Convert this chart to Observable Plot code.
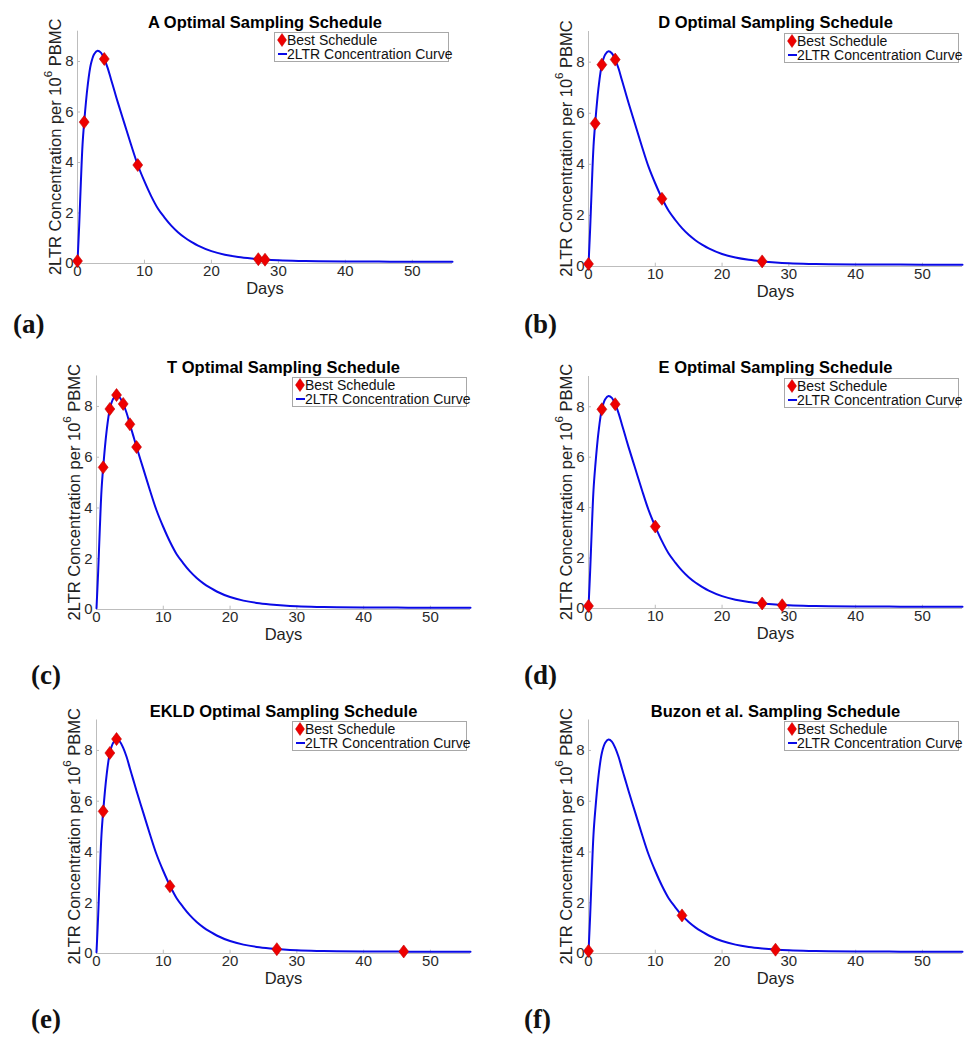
<!DOCTYPE html>
<html>
<head>
<meta charset="utf-8">
<script src="https://cdn.jsdelivr.net/npm/d3@7"></script>
<script src="https://cdn.jsdelivr.net/npm/@observablehq/plot@0.6"></script>
<style>
  html, body { margin: 0; padding: 0; background: #fff; }
  #root { position: relative; width: 967px; height: 1038px; background: #fff; overflow: hidden; }
  .panel { position: absolute; }
  .legend { position: absolute; border: 1px solid #a8a8a8; background: #fff; font-family: "Liberation Sans", Arial, sans-serif; font-size: 14px; color: #111; line-height: 14px; padding: 0 2px 1px 2px; box-sizing: border-box; }
  .legend .row { display: flex; align-items: center; height: 14px; white-space: nowrap; }
  .legend svg { display: block; flex: none; }
  .plabel { position: absolute; font-family: "Liberation Serif", "DejaVu Serif", serif; font-weight: bold; font-size: 27px; color: #111; line-height: 1; }
</style>
</head>
<body>
<div id="root"></div>
<script>
// ---- data ----
const curveDays = [0,0.25,0.5,0.75,1,1.5,2,2.5,3,3.5,4,4.5,5,5.5,6,7,8,9,10,11,12,13,14,15,16,17,18,20,22,24,26,28,30,33,36,40,45,50,56];
const curveConc = [0.05,1.5,3.2,4.7,5.6,7.0,7.9,8.3,8.43,8.35,8.1,7.75,7.3,6.85,6.4,5.55,4.7,3.9,3.25,2.67,2.18,1.82,1.5,1.24,1.03,0.86,0.71,0.49,0.35,0.26,0.2,0.155,0.125,0.1,0.088,0.08,0.075,0.072,0.07];

const titles = ["A Optimal Sampling Schedule","D Optimal Sampling Schedule","T Optimal Sampling Schedule","E Optimal Sampling Schedule","EKLD Optimal Sampling Schedule","Buzon et al. Sampling Schedule"];
const panelLetters = ["(a)","(b)","(c)","(d)","(e)","(f)"];

const scheduleDays = [
  [0,1,4,9,27,28],
  [0,1,2,4,11,26],
  [1,2,3,4,5,6],
  [0,2,4,10,26,29],
  [1,2,3,11,27,46],
  [0,14,28]
];
const scheduleConc = [
  [0.1,5.6,8.1,3.9,0.17,0.15],
  [0.1,5.6,7.9,8.1,2.65,0.2],
  [5.6,7.9,8.45,8.1,7.3,6.4],
  [0.1,7.9,8.1,3.25,0.2,0.13],
  [5.6,7.9,8.45,2.65,0.17,0.08],
  [0.1,1.5,0.15]
];

const xTicks = [0,10,20,30,40,50];
const yTicks = [0,2,4,6,8];
const xDomain = [0,56];
const yDomain = [0,9.2];
const legendLabels = ["Best Schedule","2LTR Concentration Curve"];

// ---- layout (pixel frames of each panel) ----
const frames = [
  {sx:0,   sy:0,   w:480, h:340, l:77,  r:452, t:30.7,  b:263, lx:13,  ly:311},
  {sx:480, sy:0,   w:487, h:340, l:588, r:962, t:31,    b:266, lx:524, ly:311},
  {sx:0,   sy:340, w:480, h:340, l:96,  r:470, t:375.5, b:609, lx:31,  ly:662},
  {sx:480, sy:340, w:487, h:340, l:588, r:962, t:376,   b:608, lx:524, ly:662},
  {sx:0,   sy:680, w:480, h:358, l:96,  r:470, t:719.5, b:953, lx:31,  ly:1006},
  {sx:480, sy:680, w:487, h:358, l:588, r:962, t:719.5, b:953, lx:524, ly:1006}
];

const FONT = "'Liberation Sans', Arial, Helvetica, sans-serif";
const AXIS = "#bdbdbd";
const BLUE = "#0a0ae6";
const RED = "#ee0000";

// tall MATLAB-like diamond
const tallDiamond = {
  draw(ctx, size) {
    const r = Math.sqrt(size / Math.PI);
    const w = r * 0.76;
    ctx.moveTo(0, -r); ctx.lineTo(w, 0); ctx.lineTo(0, r); ctx.lineTo(-w, 0); ctx.closePath();
  }
};

const curve = curveDays.map((d, i) => ({day: d, conc: curveConc[i]}));
const root = document.getElementById("root");

frames.forEach((f, k) => {
  const pts = scheduleDays[k].map((d, i) => ({day: d, conc: scheduleConc[k][i]}));
  const mL = f.l - f.sx, mR = f.sx + f.w - f.r, mT = f.t - f.sy, mB = f.sy + f.h - f.b;
  const plot = Plot.plot({
    width: f.w, height: f.h,
    marginLeft: mL, marginRight: mR, marginTop: mT, marginBottom: mB,
    x: {domain: xDomain},
    y: {domain: yDomain},
    style: {fontFamily: FONT, fontSize: "15px", color: "#2a2a2a", background: "transparent", overflow: "visible"},
    marks: [
      Plot.ruleY([0], {stroke: AXIS, strokeWidth: 1}),
      Plot.ruleX([0], {stroke: AXIS, strokeWidth: 1}),
      Plot.ruleX(xTicks, {x: d => d, y1: 0, y2: 0.13, stroke: AXIS}),
      Plot.ruleY(yTicks, {y: d => d, x1: 0, x2: 0.45, stroke: AXIS}),
      Plot.axisX({ticks: xTicks, tickSize: 0, tickPadding: 2, label: null, fontSize: 15, fill: "#2a2a2a"}),
      Plot.axisY({ticks: yTicks, tickSize: 0, tickPadding: 4, label: null, fontSize: 15, fill: "#2a2a2a"}),
      Plot.line(curve, {x: "day", y: "conc", stroke: BLUE, strokeWidth: 2, curve: "catmull-rom"}),
      Plot.dot(pts, {x: "day", y: "conc", r: 6.5, symbol: tallDiamond, fill: RED, stroke: "#c00000", strokeWidth: 0.6}),
      Plot.text([titles[k]], {text: d => d, frameAnchor: "top", dy: -15, fontWeight: "bold", fontSize: 16.5, fill: "#000"}),
      Plot.text(["Days"], {text: d => d, frameAnchor: "bottom", dy: 30, fontSize: 16.5, fill: "#222"})
    ]
  });
  plot.classList.add("panel");
  plot.style.left = f.sx + "px";
  plot.style.top = f.sy + "px";
  const svg = d3.select(plot);
  // make sure tick labels use the intended size
  svg.selectAll('g[aria-label="x-axis tick label"], g[aria-label="y-axis tick label"]')
    .attr("font-size", 15).style("font-size", "15px");
  svg.selectAll('g[aria-label="x-axis tick label"] text, g[aria-label="y-axis tick label"] text')
    .attr("font-size", 15).style("font-size", "15px");
  // y-axis label with superscript
  const cy = mT + (f.b - f.t) / 2;
  const tx = svg.append("text")
    .attr("transform", `translate(${mL - 22},${cy}) rotate(-90)`)
    .attr("text-anchor", "middle")
    .attr("dominant-baseline", "central")
    .attr("font-size", 16.5)
    .attr("fill", "#222")
    .attr("font-family", FONT);
  tx.append("tspan").text("2LTR Concentration per 10");
  tx.append("tspan").attr("dy", -7).attr("font-size", 11.5).text("6");
  tx.append("tspan").attr("dy", 7).text(" PBMC");
  root.appendChild(plot);

  // legend
  const lg = document.createElement("div");
  lg.className = "legend";
  lg.style.left = (f.r - 178) + "px";
  lg.style.top = (f.t + 1.5) + "px";
  lg.style.width = "175px";
  lg.style.height = "30px";
  lg.innerHTML =
    `<div class="row"><svg width="10" height="14"><polygon points="5,0.5 9.5,7 5,13.5 0.5,7" fill="${RED}" stroke="#c00000" stroke-width="0.5"/></svg><span>${legendLabels[0]}</span></div>` +
    `<div class="row"><svg width="10" height="14"><line x1="1" y1="7" x2="10" y2="7" stroke="${BLUE}" stroke-width="2"/></svg><span>${legendLabels[1]}</span></div>`;
  root.appendChild(lg);

  // panel letter
  const pl = document.createElement("div");
  pl.className = "plabel";
  pl.style.left = f.lx + "px";
  pl.style.top = f.ly + "px";
  pl.textContent = panelLetters[k];
  root.appendChild(pl);
});
</script>
</body>
</html>
